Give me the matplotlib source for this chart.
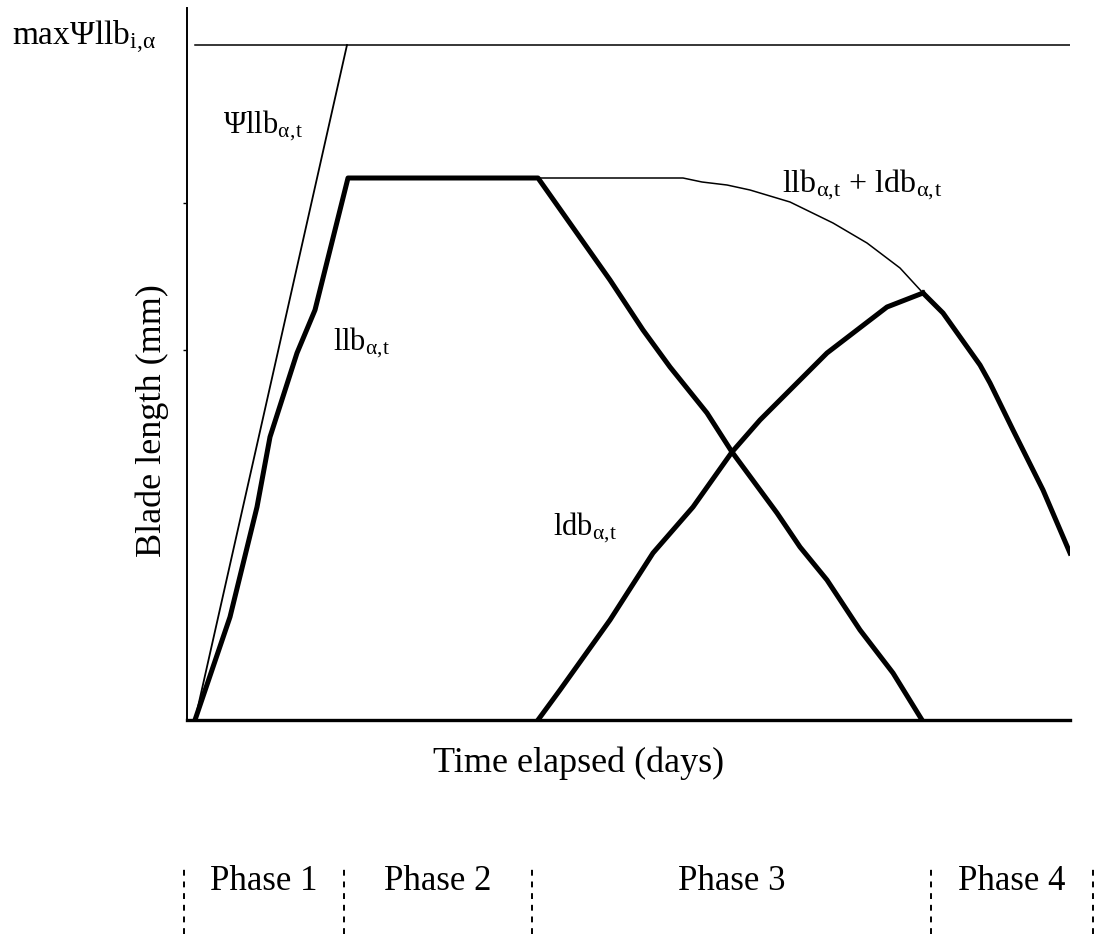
import matplotlib
matplotlib.use('Agg')
import matplotlib.pyplot as plt

plt.rcParams['font.family'] = ['Liberation Serif', 'DejaVu Serif']
plt.rcParams['mathtext.fontset'] = 'custom'
plt.rcParams['mathtext.rm'] = 'Liberation Serif'
plt.rcParams['mathtext.it'] = 'Liberation Serif'
plt.rcParams['mathtext.default'] = 'regular'

# schematic: time and blade length in arbitrary units
psi_t = [8, 160]
psi_len = [0, 675]
max_psi = 675

# live blade length (growth, plateau, senescence)
llb_t = [8, 43, 70, 83, 110, 128, 143, 161, 351, 423, 456, 483, 520, 545, 590, 613, 640, 673, 706, 735]
llb_len = [0, 103, 213, 283, 367, 410, 470, 542, 542, 440, 390, 353, 307, 268, 207, 173, 140, 90, 47, 0]

# dead blade length
ldb_t = [351, 373, 423, 466, 506, 545, 573, 606, 640, 700, 736]
ldb_len = [0, 30, 100, 167, 213, 268, 300, 333, 367, 413, 427]

# llb + ldb
sum_t = [351, 496, 515, 540, 563, 603, 646, 680, 713, 736]
sum_len = [542, 542, 538, 535, 530, 518, 497, 477, 452, 427]

# phase 4, dead part only
late_t = [736, 756, 793, 803, 826, 856, 883]
late_len = [427, 407, 355, 337, 290, 230, 167]

phase_edges = [-3, 157, 345, 744, 906]
phase_names = ['Phase 1', 'Phase 2', 'Phase 3', 'Phase 4']

fig = plt.figure(figsize=(10.94, 9.34), dpi=100)
ax = fig.add_axes([187 / 1094, 214 / 934, 883 / 1094, 712 / 934])

ax.plot(psi_t, psi_len, color='black', lw=1.3)
ax.plot([8, 883], [max_psi, max_psi], color='black', lw=1.1)
ax.plot(sum_t, sum_len, color='black', lw=1.1)
ax.plot(llb_t, llb_len, color='black', lw=3.6, solid_joinstyle='round')
ax.plot(ldb_t, ldb_len, color='black', lw=3.6, solid_joinstyle='round')
ax.plot(late_t, late_len, color='black', lw=3.6, solid_joinstyle='round')

ax.set_xlim(0, 883)
ax.set_ylim(0, 712)
ax.spines['top'].set_visible(False)
ax.spines['right'].set_visible(False)
ax.spines['left'].set_linewidth(1.4)
ax.spines['bottom'].set_linewidth(2.4)
ax.set_xticks([])
ax.set_yticks([370, 517])
ax.set_yticklabels([])
ax.tick_params(axis='y', length=3, width=1)

sub = r'$_{\alpha,\!t}$'
ax.text(-175, 675, r'max$\Psi$llb$_{i,\!\alpha}$', fontsize=24, va='baseline', ha='left', clip_on=False)
ax.text(36, 587, r'$\Psi$llb' + sub, fontsize=22, va='baseline')
ax.text(146, 370, 'llb' + sub, fontsize=22, va='baseline')
ax.text(595, 528, 'llb' + sub + ' + ldb' + sub, fontsize=23, va='baseline')
ax.text(366, 185, 'ldb' + sub, fontsize=22, va='baseline')

fig.text(579 / 1094, (934 - 772) / 934, 'Time elapsed (days)', fontsize=26, ha='center', va='baseline')
fig.text(152 / 1094, (934 - 421) / 934, 'Blade length (mm)', fontsize=26, rotation=90, ha='center', va='center')

# phase strip below the chart
pax = fig.add_axes([187 / 1094, 0, 883 / 1094, 69 / 934])
pax.set_xlim(0, 883)
pax.set_ylim(0, 1)
pax.axis('off')
for e in phase_edges:
    pax.plot([e, e], [0, 1], color='black', lw=1.4, ls=(0, (3, 3)), clip_on=False)
for i, name in enumerate(phase_names):
    mid = (phase_edges[i] + phase_edges[i + 1]) / 2
    pax.text(mid, 0.64, name, fontsize=25, ha='center', va='baseline')

fig.savefig('out.png', dpi=100)
